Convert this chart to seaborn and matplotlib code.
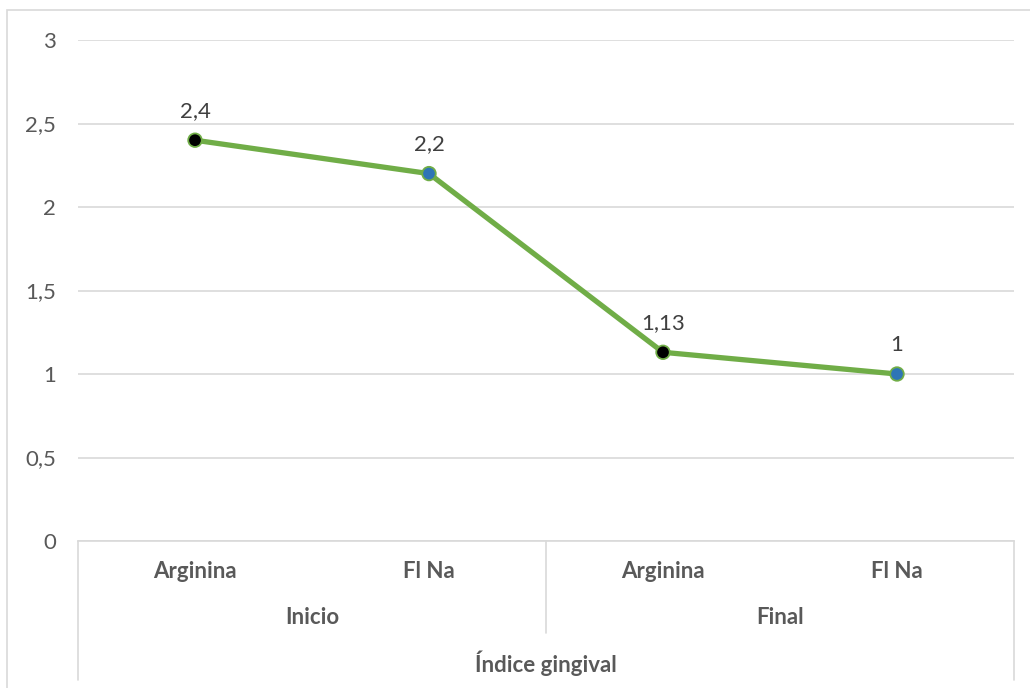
import matplotlib
matplotlib.use("Agg")
import matplotlib.pyplot as plt
from matplotlib.patches import Rectangle
import seaborn as sns
import pandas as pd

# Gingival index by toothpaste, at start and end of the study
periods = ["Inicio", "Inicio", "Final", "Final"]
treatments = ["Arginina", "Fl Na", "Arginina", "Fl Na"]
values = [2.4, 2.2, 1.13, 1.0]
value_labels = ["2,4", "2,2", "1,13", "1"]
outer_label = "Índice gingival"
y_ticks = [0, 0.5, 1, 1.5, 2, 2.5, 3]
y_tick_labels = ["0", "0,5", "1", "1,5", "2", "2,5", "3"]

df = pd.DataFrame({
    "pos": range(len(values)),
    "periodo": periods,
    "tratamiento": treatments,
    "valor": values,
})

sns.set_theme(style="white")
plt.rcParams["font.family"] = ["Lato", "DejaVu Sans"]

GRID = "#d9d9d9"
TEXT = "#595959"
GREEN = "#70ad47"
FS = 16

W, H = 1030, 688
fig = plt.figure(figsize=(W / 100, H / 100), dpi=100)
ax = fig.add_axes([78 / W, 1 - 541 / H, (1014 - 78) / W, (541 - 40) / H])

sns.lineplot(data=df, x="pos", y="valor", color=GREEN, linewidth=3.8,
             ax=ax, zorder=3, legend=False)
sns.scatterplot(data=df, x="pos", y="valor", hue="tratamiento",
                palette={"Arginina": "black", "Fl Na": "#2e75b6"},
                s=95, edgecolor=GREEN, linewidth=1.3, ax=ax, zorder=4,
                legend=False)

for x, v, lab in zip(df["pos"], values, value_labels):
    ax.annotate(lab, (x, v), xytext=(0, 14), textcoords="offset points",
                ha="center", va="bottom", fontsize=FS, color="#404040")

ax.set_xlim(-0.5, len(values) - 0.5)
ax.set_ylim(0, 3)
ax.set_yticks(y_ticks)
ax.set_yticklabels(y_tick_labels, fontsize=FS, color=TEXT)
ax.tick_params(axis="y", length=0, pad=16)
ax.set_xticks([])
ax.set_xlabel("")
ax.set_ylabel("")
ax.grid(axis="y", color=GRID, linewidth=1.2)
ax.set_axisbelow(True)
for side in ["left", "right", "top"]:
    ax.spines[side].set_visible(False)
ax.spines["bottom"].set_color(GRID)
ax.spines["bottom"].set_linewidth(1.2)

# Multi-level category axis below the plot
tr = ax.get_xaxis_transform()
ax_h = 501.0
def fy(py):
    return (541 - py) / ax_h

for x, t in zip(df["pos"], treatments):
    ax.text(x, fy(572), t, transform=tr, ha="center", va="center",
            fontsize=FS, fontweight="bold", color=TEXT)

groups = list(dict.fromkeys(periods))
for g in groups:
    idx = [i for i, p in enumerate(periods) if p == g]
    ax.text(sum(idx) / len(idx), fy(618), g, transform=tr, ha="center",
            va="center", fontsize=FS, fontweight="bold", color=TEXT)
ax.text((len(values) - 1) / 2, fy(663), outer_label, transform=tr,
        ha="center", va="center", fontsize=FS, fontweight="bold", color=TEXT)

x_left, x_right = -0.5, len(values) - 0.5
for xv in (x_left, x_right):
    ax.plot([xv, xv], [0, fy(680)], transform=tr, color=GRID, lw=1.2,
            clip_on=False)
ax.plot([1.5, 1.5], [0, fy(633)], transform=tr, color=GRID, lw=1.2,
        clip_on=False)

# Chart frame
fig.add_artist(Rectangle((7 / W, -0.2), 1.2, 1 - 10 / H + 0.2,
                         transform=fig.transFigure, fill=False,
                         edgecolor=GRID, linewidth=1.2))

fig.savefig("out.png", dpi=100, facecolor="white")
